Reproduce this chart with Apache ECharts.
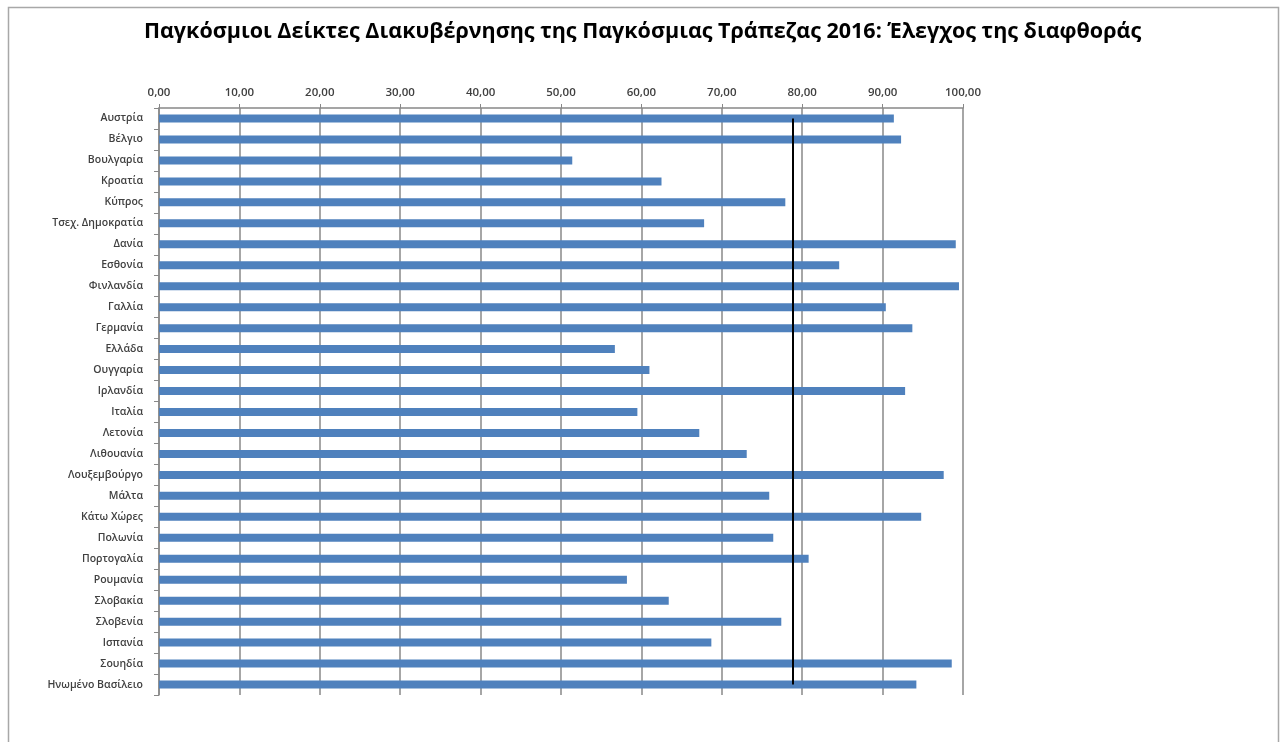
<!DOCTYPE html>
<html><head><meta charset="utf-8">
<script src="https://cdn.jsdelivr.net/npm/echarts@6/dist/echarts.min.js"></script>
<style>html,body{margin:0;padding:0;background:#fff}#c{width:1285px;height:742px}</style>
</head><body><div id="c"></div>
<script>
const countries = ['Αυστρία','Βέλγιο','Βουλγαρία','Κροατία','Κύπρος','Τσεχ. Δημοκρατία','Δανία','Εσθονία','Φινλανδία','Γαλλία','Γερμανία','Ελλάδα','Ουγγαρία','Ιρλανδία','Ιταλία','Λετονία','Λιθουανία','Λουξεμβούργο','Μάλτα','Κάτω Χώρες','Πολωνία','Πορτογαλία','Ρουμανία','Σλοβακία','Σλοβενία','Ισπανία','Σουηδία','Ηνωμένο Βασίλειο'];
const scores = [91.4,92.3,51.4,62.5,77.9,67.8,99.1,84.6,99.5,90.4,93.7,56.7,61.0,92.8,59.5,67.2,73.1,97.6,75.9,94.8,76.4,80.8,58.2,63.4,77.4,68.7,98.6,94.2];
const euAverage = 78.8;
const titleText = 'Παγκόσμιοι Δείκτες Διακυβέρνησης της Παγκόσμιας Τράπεζας 2016: Έλεγχος της διαφθοράς';

const chart = echarts.init(document.getElementById('c'));
chart.setOption({
  backgroundColor:'#fff',
  animation:false,
  graphic:[{type:'rect',shape:{x:8.5,y:7.5,width:1270,height:760},style:{fill:'none',stroke:'#a8a8a8',lineWidth:1.5}}],
  title:{text:titleText,left:'center',top:16,textStyle:{fontFamily:'Open Sans',fontWeight:'bold',fontSize:21.5,color:'#000'}},
  grid:{left:159,right:322,top:108,bottom:47,containLabel:false},
  xAxis:{type:'value',position:'top',min:0,max:100,interval:10,
    axisLine:{show:true,lineStyle:{color:'#888',width:1.5}},
    axisTick:{show:true,length:4,lineStyle:{color:'#888'}},
    axisLabel:{margin:9,color:'#404040',fontFamily:'Open Sans',fontSize:11.5,fontWeight:600,formatter:v=>v.toFixed(2).replace('.',',')},
    splitLine:{show:true,lineStyle:{color:'#888',width:1.5}}},
  yAxis:{type:'category',data:countries,inverse:true,
    axisLine:{show:true,lineStyle:{color:'#888',width:1.5}},
    axisTick:{show:true,length:5,lineStyle:{color:'#888'}},
    axisLabel:{margin:16,color:'#404040',fontFamily:'Open Sans',fontSize:10.5,fontWeight:600}},
  series:[{type:'bar',data:scores,barWidth:8,itemStyle:{color:'#4F81BD'},
    markLine:{symbol:'none',silent:true,label:{show:false},
      lineStyle:{color:'#000',width:2,type:'solid'},
      data:[[{coord:[euAverage,countries[0]]},{coord:[euAverage,countries[countries.length-1]]}]]}}]
});
</script></body></html>
